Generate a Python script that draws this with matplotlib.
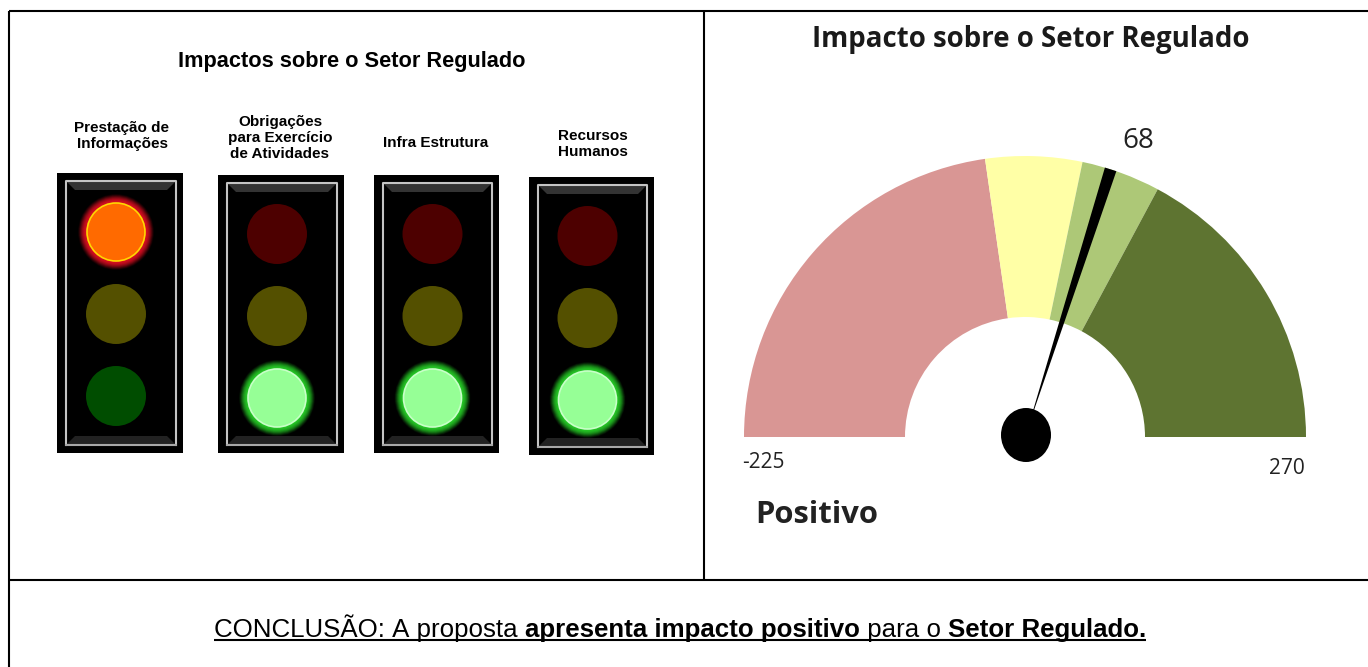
import matplotlib
matplotlib.use("Agg")
import matplotlib.pyplot as plt
import numpy as np
from matplotlib.patches import Wedge, Circle, Rectangle, Ellipse, Polygon

# ---- data ----
main_title_left = "Impactos sobre o Setor Regulado"
main_title_right = "Impacto sobre o Setor Regulado"
light_labels = ["Prestação de\nInformações", "Obrigações\npara Exercício\nde Atividades", "Infra Estrutura", "Recursos\nHumanos"]
active_lamps = ["red", "green", "green", "green"]
gauge_edges = [-225, 0, 55, 100, 270]
gauge_colors = ["#d99694", "#ffffa6", "#adc877", "#5e7431"]
gauge_value = 68
verdict = "Positivo"
conclusion_parts = [("CONCLUSÃO: A proposta ", False), ("apresenta impacto positivo", True),
                    (" para o ", False), ("Setor Regulado.", True)]

W, H = 1368, 667
fig = plt.figure(figsize=(W/100, H/100), dpi=100)
ax = fig.add_axes([0, 0, 1, 1])
ax.set_xlim(0, W); ax.set_ylim(0, H); ax.axis("off")
Y = lambda y: H - y
SANS = "Liberation Sans"

# frame
for (x0, y0, x1, y1) in [(9, 11, W, 11), (9, 580, W, 580), (9, 11, 9, H), (704, 11, 704, 580)]:
    ax.plot([x0, x1], [Y(y0), Y(y1)], color="black", lw=1.5, solid_capstyle="butt")

# left panel
ax.text(352, Y(62), main_title_left, ha="center", va="center", fontsize=15.7, fontweight="bold", family=SANS)
boxes = [(57, 173, 183, 453), (218, 175, 344, 453), (374, 175, 499, 453), (529, 177, 654, 455)]
label_y = [136, 138, 143, 144]
label_x = [122, 280, 436, 593]
dim = {"red": "#4d0000", "yellow": "#545000", "green": "#004d00"}
for (x0, y0, x1, y1), lab, lx, ly, act in zip(boxes, light_labels, label_x, label_y, active_lamps):
    cx = (x0 + x1) / 2 - 4
    ax.text(lx, Y(ly), lab, ha="center", va="center", fontsize=11, fontweight="bold", family=SANS, linespacing=1.15)
    ax.add_patch(Rectangle((x0, Y(y1)), x1-x0, y1-y0, fc="black", ec="none"))
    # bevel: top and bottom trapezoids, then the light inner frame
    ix0, ix1, iy0, iy1 = x0+9, x1-7, y0+8, y1-8
    ax.add_patch(Polygon([(ix0, Y(iy0)), (ix1, Y(iy0)), (ix1-9, Y(iy0+9)), (ix0+9, Y(iy0+9))], fc="#333333", ec="none"))
    ax.add_patch(Polygon([(ix0, Y(iy1)), (ix1, Y(iy1)), (ix1-9, Y(iy1-9)), (ix0+9, Y(iy1-9))], fc="#222222", ec="none"))
    ax.plot([ix0, ix0, ix1, ix1], [Y(iy1), Y(iy0), Y(iy0), Y(iy1)], color="#c4c4c4", lw=1.5)
    ax.plot([ix0, ix1], [Y(iy1), Y(iy1)], color="#a8a8a8", lw=1.5)
    cy0 = y0 + 59
    for colour, cy in zip(["red", "yellow", "green"], [cy0, cy0+82, cy0+164]):
        if colour == act:
            if colour == "red":
                glow, core, rim = "#e01024", "#ff6a00", "#ffd800"
            else:
                glow, core, rim = "#2ad02a", "#96ff96", "#c8ffc8"
            for rr in np.arange(38, 29, -0.5):
                ax.add_patch(Circle((cx, Y(cy)), rr, fc=glow, ec="none", alpha=0.05 + 0.03 * (38 - rr)))
            ax.add_patch(Circle((cx, Y(cy)), 29, fc=core, ec=rim, lw=1.2))
        else:
            ax.add_patch(Circle((cx, Y(cy)), 30, fc=dim[colour], ec="none"))

# gauge
gx, gy, R, r = 1025, Y(437), 281, 120
lo, hi = gauge_edges[0], gauge_edges[-1]
ang = lambda v: 180 - 180 * (v - lo) / (hi - lo)
for a, b, c in zip(gauge_edges[:-1], gauge_edges[1:], gauge_colors):
    ax.add_patch(Wedge((gx, gy), R, ang(b), ang(a), width=R-r, fc=c, ec="none"))
t = np.deg2rad(ang(gauge_value) - 1.2)
ux, uy = np.cos(t), np.sin(t)
px, py = -uy, ux
base = 10
ax.add_patch(Polygon([(gx + ux*base, gy + uy*base),
                      (gx + ux*R + px*6, gy + uy*R + py*6),
                      (gx + ux*R - px*6, gy + uy*R - py*6)], fc="black", ec="none"))
ax.add_patch(Ellipse((1026, Y(435)), 50, 54, fc="black", ec="none"))

ax.text(1031, Y(40), main_title_right, ha="center", va="center", fontsize=19.9, fontweight="bold", family="Open Sans", color="#1a1a1a")
ax.text(1138, Y(141), str(gauge_value), ha="center", va="center", fontsize=20, family="Open Sans", color="#222222")
ax.text(763, Y(462), str(lo), ha="center", va="center", fontsize=15, family="Open Sans", color="#222222")
ax.text(1287, Y(468), str(hi), ha="center", va="center", fontsize=15, family="Open Sans", color="#222222")
ax.text(755, Y(515), verdict, ha="left", va="center", fontsize=22.3, fontweight="bold", family="Open Sans", color="#222222")

# conclusion line: measured left-to-right so the mixed weights join up
fig.canvas.draw()
rend = fig.canvas.get_renderer()
x = 214
base_y = Y(637)
for s, bold in conclusion_parts:
    tx = ax.text(x, base_y, s.replace(" ", "\u00a0"), ha="left", va="baseline", fontsize=18.6,
                 fontweight="bold" if bold else "normal", family=SANS, color="black")
    w = tx.get_window_extent(rend).width
    ax.plot([x, x + w], [base_y - 3, base_y - 3], color="black", lw=1.5, solid_capstyle="butt")
    x += w

fig.savefig("out.png", dpi=100, facecolor="white")
